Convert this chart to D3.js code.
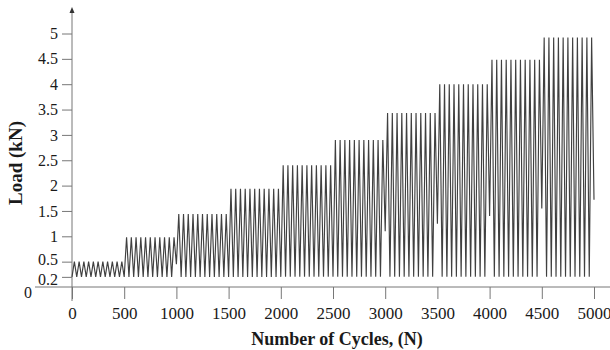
<!DOCTYPE html>
<html>
<head>
<meta charset="utf-8">
<script src="https://cdn.jsdelivr.net/npm/d3@7"></script>
<style>
  body { margin: 0; background: #fff; }
  svg text { font-family: "Liberation Serif", "Times New Roman", serif; fill: #1a1a1a; }
</style>
</head>
<body>
<svg id="chart" width="610" height="350"></svg>
<script>
// Stepped cyclic loading protocol: blocks of 500 cycles, each block at a higher peak load.
const blockStarts = [0, 500, 1000, 1500, 2000, 2500, 3000, 3500, 4000, 4500];
const blockPeaks = [0.5, 0.98, 1.44, 1.94, 2.4, 2.9, 3.43, 4.0, 4.48, 4.92];
// load reached at the valley where one block hands over to the next
const blockEntryLoads = [0.2, 0.2, 0.45, 0.2, 0.2, 0.2, 1.1, 1.25, 1.4, 1.55];
const cyclesPerBlock = 11;     // drawn load cycles in each block
const blockLength = 500;       // cycles per block
const minLoad = 0.2;           // valley load (kN)
const finalLoad = 1.72;        // load at the end of the record
const endCycle = 5000;

const xTicks = [0, 500, 1000, 1500, 2000, 2500, 3000, 3500, 4000, 4500, 5000];
const yTicks = [0.2, 0.5, 1, 1.5, 2, 2.5, 3, 3.5, 4, 4.5, 5];

const svg = d3.select("#chart");
svg.append("rect").attr("width", 610).attr("height", 350).attr("fill", "#fff");

const x = d3.scaleLinear().domain([0, 5000]).range([72, 594]);
const y = d3.scaleLinear().domain([0, 5]).range([287, 33.5]);

// Build the load history: valley -> peak for every cycle in every block
const history = [];
blockStarts.forEach((s, b) => {
  const period = blockLength / cyclesPerBlock;
  for (let k = 0; k < cyclesPerBlock; k++) {
    history.push({ n: s + k * period, load: k === 0 ? blockEntryLoads[b] : minLoad });
    history.push({ n: s + (k + 0.5) * period, load: blockPeaks[b] });
  }
});
history.push({ n: endCycle, load: finalLoad });

const axisColor = "#777";

// x axis
const xAxis = svg.append("g")
  .attr("transform", `translate(0,${y(0)})`)
  .call(d3.axisBottom(x).tickValues(xTicks).tickFormat(d3.format("d"))
    .tickSize(12).tickPadding(8).tickSizeOuter(0));
xAxis.select(".domain").remove();
xAxis.selectAll(".tick line").attr("stroke", axisColor);
xAxis.selectAll(".tick text").attr("font-size", 17).attr("font-family", null).attr("fill", "#1a1a1a");
svg.append("line")
  .attr("x1", 35).attr("x2", 610).attr("y1", y(0)).attr("y2", y(0))
  .attr("stroke", axisColor).attr("stroke-width", 1);

// y axis
const yAxis = svg.append("g")
  .attr("transform", `translate(${x(0)},0)`)
  .call(d3.axisLeft(y).tickValues(yTicks).tickFormat(d => String(d))
    .tickSize(10).tickPadding(4).tickSizeOuter(0));
yAxis.select(".domain").remove();
yAxis.selectAll(".tick line").attr("stroke", axisColor);
yAxis.selectAll(".tick text")
  .attr("font-size", 16).attr("font-family", null).attr("fill", "#1a1a1a")
  // the two lowest labels sit close together; nudge them apart
  .attr("y", d => d === 0.2 ? 2.5 : d === 0.5 ? -2 : 0);
svg.append("line")
  .attr("x1", x(0)).attr("x2", x(0)).attr("y1", 12).attr("y2", 301)
  .attr("stroke", axisColor).attr("stroke-width", 1);
// arrow head on the load axis
svg.append("path")
  .attr("d", `M${x(0)},7 L${x(0) - 2.5},13 L${x(0) + 2.5},13 Z`)
  .attr("fill", "#333");

// origin label
svg.append("text")
  .attr("x", 28).attr("y", y(0) + 6)
  .attr("dy", "0.32em").attr("text-anchor", "middle")
  .attr("font-size", 16).text("0");

// load history trace
svg.append("path")
  .datum(history)
  .attr("fill", "none")
  .attr("stroke", "#404040")
  .attr("stroke-width", 1.15)
  .attr("stroke-linejoin", "miter")
  .attr("d", d3.line().x(d => x(d.n)).y(d => y(d.load)));

// axis titles
svg.append("text")
  .attr("x", 337).attr("y", 345)
  .attr("text-anchor", "middle")
  .attr("font-size", 18).attr("font-weight", "bold")
  .text("Number of Cycles, (N)");

svg.append("text")
  .attr("transform", "translate(22,163) rotate(-90)")
  .attr("text-anchor", "middle")
  .attr("font-size", 19).attr("font-weight", "bold")
  .text("Load (kN)");
</script>
</body>
</html>
